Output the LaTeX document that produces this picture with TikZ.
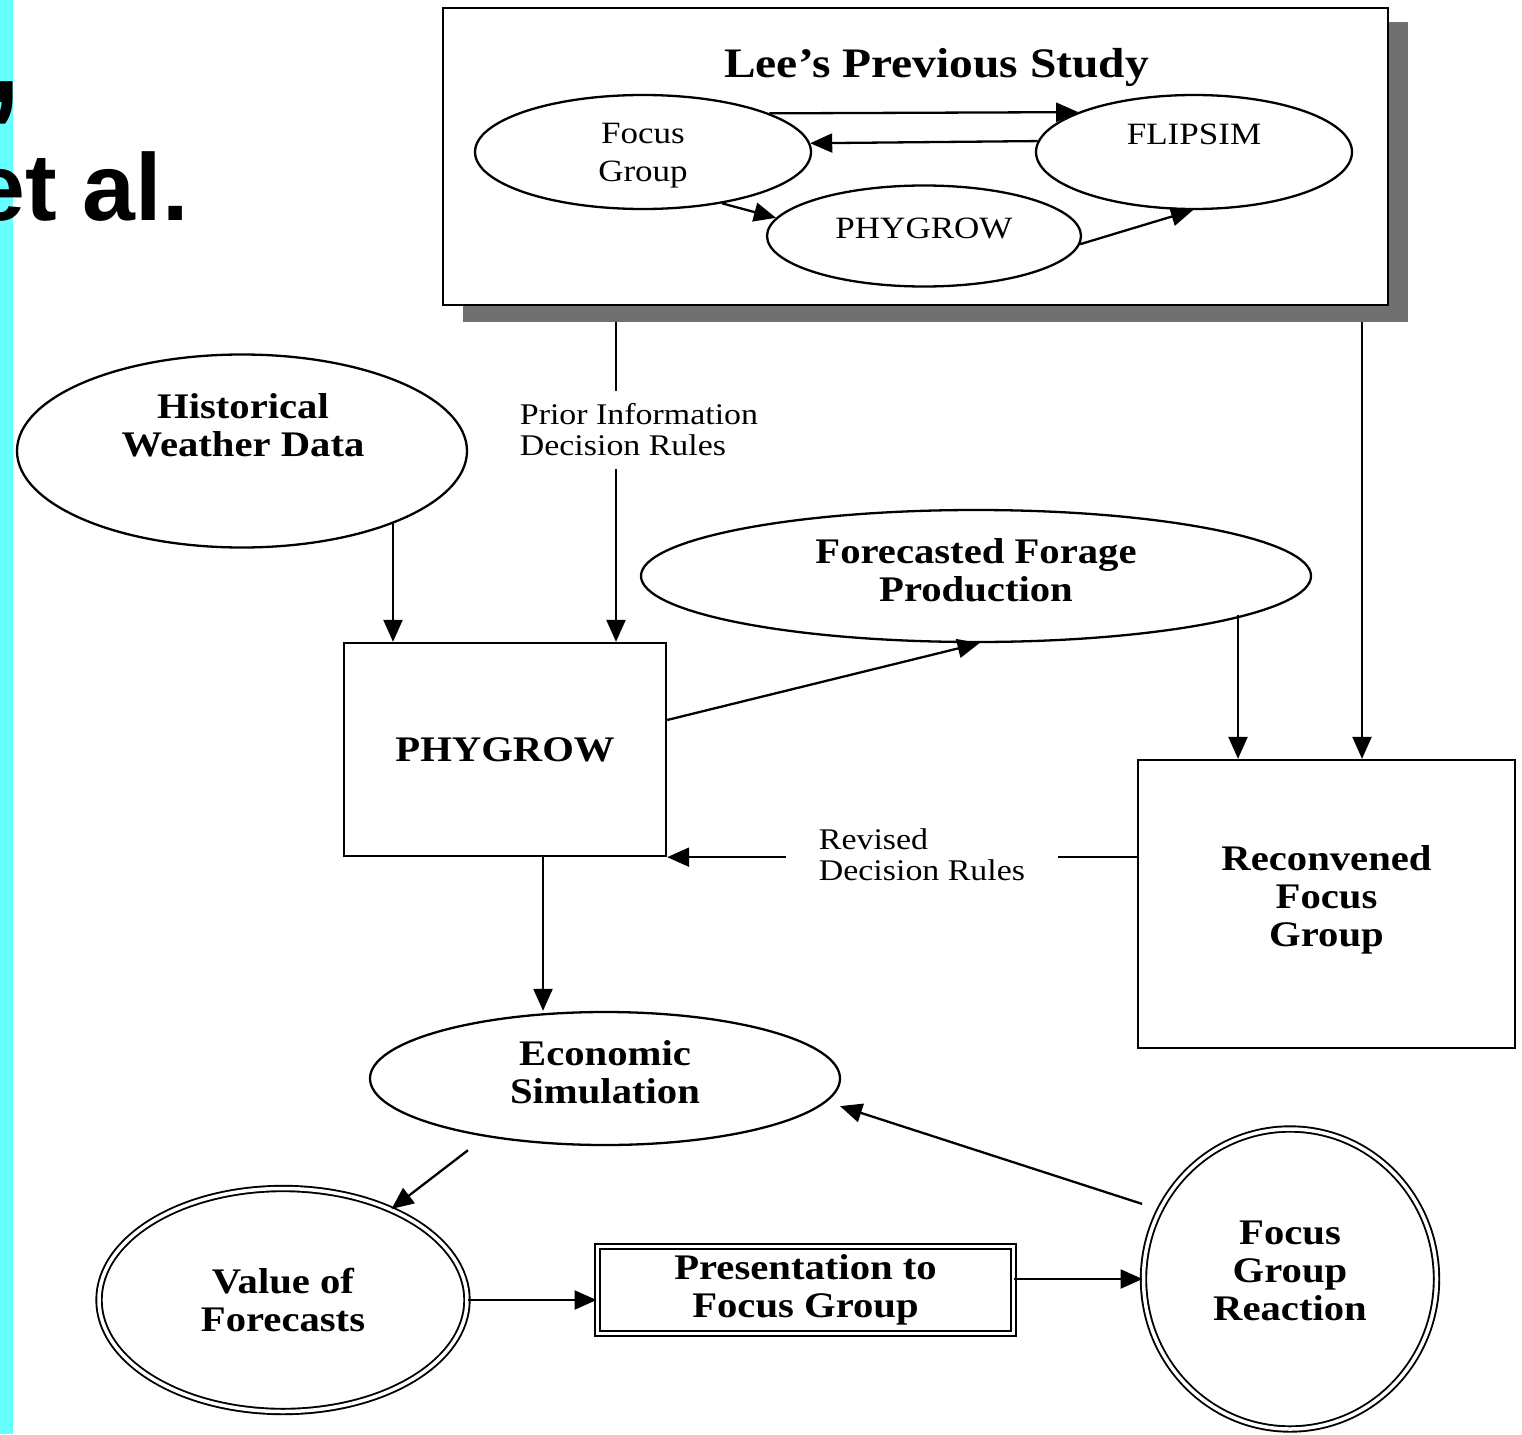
\documentclass[tikz,border=0pt]{standalone}
\usepackage{fontspec}
\usetikzlibrary{arrows.meta,shapes.geometric,calc}
\newfontfamily\serf[FakeStretch=1.13]{Liberation Serif}
\newfontfamily\sansf{Liberation Sans}
\definecolor{barcyan}{HTML}{66FFFF}
\definecolor{shadowgray}{HTML}{707070}
\pgfdeclarelayer{bottom}
\pgfdeclarelayer{background}
\pgfsetlayers{bottom,background,main}
\tikzset{
  ln/.style={line width=2.3pt},
  arr/.style={ln, -{Triangle[length=22pt,width=19pt]}},
  ell/.style={ellipse, draw, line width=2.3pt, inner sep=0pt},
  dell/.style={ellipse, draw, line width=1.9pt, double, double distance=3.5pt, inner sep=0pt},
  boxn/.style={rectangle, draw, line width=2.3pt, inner sep=0pt},
  dbox/.style={rectangle, draw, line width=1.9pt, double, double distance=3.5pt, inner sep=0pt},
  btxt/.style={font=\serf\bfseries\fontsize{36}{38}\selectfont, align=center},
  rtxt/.style={font=\serf\fontsize{31}{38}\selectfont, align=center},
  lbl/.style={font=\serf\fontsize{30}{31}\selectfont, align=left, fill=white, inner ysep=13pt},
  bigsans/.style={font=\sansf\bfseries\fontsize{95}{100}\selectfont, inner sep=0pt},
}
\begin{document}
\begin{tikzpicture}[x=1pt,y=-1pt]
\useasboundingbox (0,0) rectangle (1522,1434);
\begin{pgfonlayer}{bottom}
\fill[white] (0,0) rectangle (1522,1434);
\end{pgfonlayer}
% left cyan bar and cut title text
\fill[barcyan] (0,0) rectangle (13,1434);
\node[bigsans, font=\sansf\bfseries\fontsize{140}{140}\selectfont, anchor=base west] (comma) at (-17,103) {,};
\node[bigsans, anchor=base west] (etal) at (-28,220) {et al.};

% shadow of top box
\fill[shadowgray] (463,22) rectangle (1408,322);
% top box
\node[boxn, fill=white, minimum width=945, minimum height=297] (lee) at (915.5,156.5) {};
\node[btxt, font=\serf\bfseries\fontsize{42}{44}\selectfont, anchor=base, inner sep=0pt] (leet) at (936.5,78) {Lee’s Previous Study};
\node[ell, minimum width=336, minimum height=114] (fg) at (643,152) {};
\node[rtxt, inner sep=0pt] (fgt) at (643,156) {Focus\\Group};
\node[ell, minimum width=316, minimum height=114] (flip) at (1194,152) {};
\node[rtxt, anchor=base, inner sep=0pt] (flipt) at (1194,145) {FLIPSIM};
\node[ell, minimum width=314, minimum height=101] (phy) at (924,236) {};
\node[rtxt, anchor=base, inner sep=0pt] (phyt) at (924,238) {PHYGROW};

\draw[arr] (fg.17.7) -- (flip.161.3);
\draw[arr] (flip.176.3) -- (fg.3.5);
\draw[arr] (fg.-33.7) -- (phy.173.4);
\draw[arr] (phy.-3.6) -- (flip.-91);

% main nodes
\node[ell, minimum width=450, minimum height=193] (hist) at (242,451) {};
\node[btxt, inner sep=0pt] (histt) at (243,425) {Historical\\Weather Data};
\node[boxn, btxt, minimum width=322, minimum height=213] (phybox) at (505,749.5) {PHYGROW};
\node[ell, minimum width=670, minimum height=132] (fore) at (976,576) {};
\node[btxt, inner sep=0pt] (foret) at (976,570) {Forecasted Forage\\Production};
\node[boxn, btxt, minimum width=377, minimum height=288] (recon) at (1326.5,904) {};
\node[btxt, inner sep=0pt] (recont) at (1326.5,900) {Reconvened\\Focus\\Group};
\node[ell, minimum width=470, minimum height=133] (econ) at (605,1078.5) {};
\node[btxt, inner sep=0pt] (econt) at (605,1072) {Economic\\Simulation};
\node[dell, btxt, minimum width=368, minimum height=223] (value) at (283,1300) {Value of\\Forecasts};
\node[dbox, btxt, minimum width=416, minimum height=87] (pres) at (805.5,1290) {Presentation to\\Focus Group};
\node[dell, minimum width=293, minimum height=300] (fgr) at (1290,1279) {};
\node[btxt, inner sep=0pt] (fgrt) at (1290,1271) {Focus\\Group\\Reaction};

% helper points on box sides
\path ([xshift=-112pt]phybox.north) coordinate (hin);
\path ([xshift=111pt]phybox.north) coordinate (pin);
\path ([xshift=35.5pt]recon.north) coordinate (rin);
\path ([xshift=-88.5pt]recon.north) coordinate (fin);
\path ([xshift=38pt]phybox.south) coordinate (pout);
\path ([yshift=11pt]pres.east) coordinate (prout);

\begin{pgfonlayer}{background}
\draw[arr] (pin |- lee.south) -- (pin);
\draw[arr] (rin |- lee.south) -- (rin);
\end{pgfonlayer}

\draw[arr] (hin |- hist.-25.5) -- (hin);
\draw[arr] ([yshift=29.5pt]phybox.east) -- (fore.-87);
\draw[arr] (fin |- fore.-8.9) -- (fin);
\draw[arr] (recon.west |- phybox.south east) -- (phybox.south east);
\draw[arr] (pout) -- (pout |- econ.north);
\draw[arr, shorten <=22pt] (econ.206.7) -- (value.40.4);
\draw[arr] (value.east) -- (value.east -| pres.west);
\draw[arr] (prout) -- (fgr.west);
\draw[arr, shorten <=18pt, shorten >=14pt] (fgr.152.2) -- (econ.-6.5);

% connector labels
\node[lbl, inner xsep=4pt] (prior) at (639,430) {Prior Information\\Decision Rules};
\node[lbl, inner xsep=33pt] (revised) at (922,855) {Revised\\Decision Rules};
\end{tikzpicture}
\end{document}
